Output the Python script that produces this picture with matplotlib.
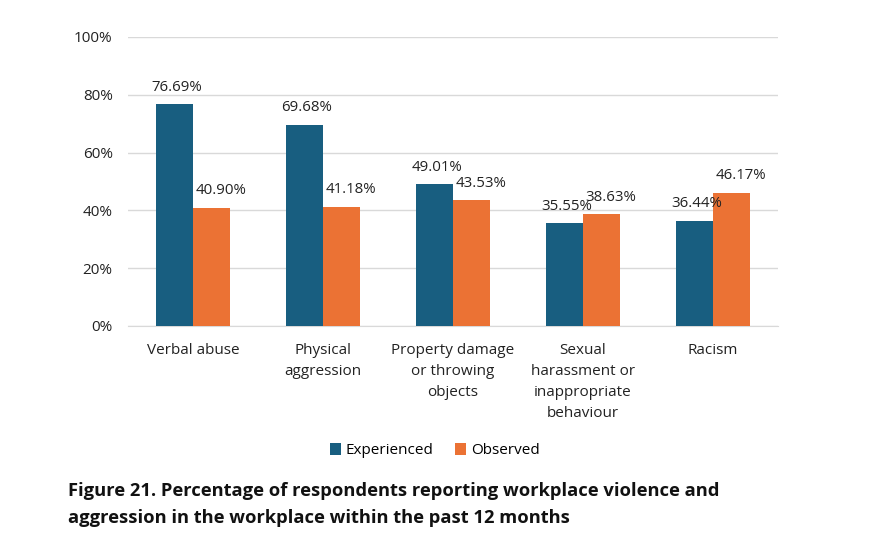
import matplotlib
matplotlib.use('Agg')
import matplotlib.pyplot as plt
import numpy as np

categories = ['Verbal abuse', 'Physical\naggression', 'Property damage\nor throwing\nobjects',
              'Sexual\nharassment or\ninappropriate\nbehaviour', 'Racism']
experienced = [76.69, 69.68, 49.01, 35.55, 36.44]
observed = [40.90, 41.18, 43.53, 38.63, 46.17]

blue = '#185E80'
orange = '#EB7234'

plt.rcParams['font.family'] = ['Open Sans', 'DejaVu Sans']

fig = plt.figure(figsize=(8.73, 5.58), dpi=100)
ax = fig.add_axes([0.1466, 0.4158, 0.7444, 0.5179])

x = np.arange(len(categories))
w = 0.285
b1 = ax.bar(x - w/2, experienced, w, color=blue, label='Experienced', zorder=3)
b2 = ax.bar(x + w/2, observed, w, color=orange, label='Observed', zorder=3)

for bars, vals, dx in [(b1, experienced, 0.02), (b2, observed, 0.075)]:
    for r, v in zip(bars, vals):
        ax.text(r.get_x() + r.get_width()/2 + dx, v + 3.3, '%.2f%%' % v,
                ha='center', va='bottom', fontsize=10.8, color='#222222')

ax.set_ylim(0, 100)
ax.set_xlim(-0.5, 4.5)
ax.set_yticks(range(0, 101, 20))
ax.set_yticklabels(['%d%%' % t for t in range(0, 101, 20)])
ax.set_xticks(x)
ax.set_xticklabels(categories, linespacing=1.56)
ax.tick_params(axis='both', length=0, labelsize=11, colors='#222222')
ax.tick_params(axis='x', pad=12)
ax.tick_params(axis='y', pad=11)
ax.grid(axis='y', color='#D9D9D9', linewidth=1, zorder=0)
for s in ['top', 'right', 'left']:
    ax.spines[s].set_visible(False)
ax.spines['bottom'].set_color('#D9D9D9')

fig.legend(loc='center', bbox_to_anchor=(0.498, 0.192), ncol=2, frameon=False,
           fontsize=11, handlelength=0.75, handleheight=0.75, handletextpad=0.3,
           columnspacing=1.4)

fig.text(0.078, 0.0966, 'Figure 21. Percentage of respondents reporting workplace violence and\n'
         'aggression in the workplace within the past 12 months',
         fontsize=13.2, fontweight='bold', color='#111111', va='center', linespacing=1.65)

fig.savefig('out.png', dpi=100)
